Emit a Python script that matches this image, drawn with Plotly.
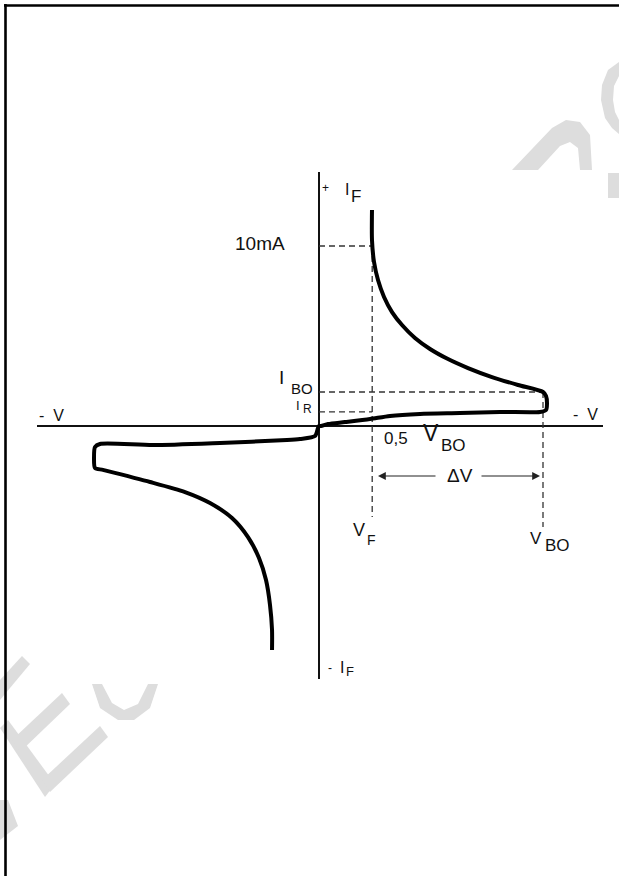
import plotly.graph_objects as go

# ---------------- data (V in volts, V_BO = 32 V ; I in mA) ----------------
# forward branch: from top (high current) down to break-over, then back to origin
fwd_v = [7.57, 7.57, 7.86, 8.43, 9.29, 10.43, 11.86, 13.71, 15.86, 18.43, 21.29,
         24.71, 28.43, 32.0, 32.43, 32.57, 32.43, 31.57, 25.86, 20.14, 14.43,
         10.14, 7.29, 3.71, 1.29, 0.29, 0.0]
fwd_i = [12.0, 10.33, 9.11, 8.11, 7.17, 6.33, 5.61, 4.89, 4.28, 3.72, 3.22,
         2.72, 2.28, 1.89, 1.67, 1.22, 0.89, 0.78, 0.78, 0.72, 0.67,
         0.56, 0.39, 0.22, 0.11, 0.0, 0.0]
# reverse branch: from origin out to -V_BO, then down to high negative current
rev_v = [-0.14, -0.57, -2.71, -4.57, -14.14, -23.71, -31.29, -32.0, -32.14, -32.0,
         -30.86, -24.14, -19.14, -15.57, -12.43, -10.14, -8.57, -7.57, -7.0,
         -6.71, -6.71]
rev_i = [-0.11, -0.56, -0.72, -0.78, -0.94, -1.06, -1.0, -1.17, -1.78, -2.33,
         -2.44, -3.11, -3.67, -4.28, -5.11, -6.17, -7.33, -8.56, -9.94,
         -11.33, -12.44]

V_F = 7.6        # forward voltage
V_BO = 32.0      # break-over voltage
I_BO = 1.89      # break-over current
I_R = 0.78       # leakage current
I_10 = 10.0      # 10 mA marker

# ---------------- geometry helpers (page pixels) ----------------
W, H = 619, 876
OX, OY = 319, 426          # origin in pixels
SX, SY = 7.0, 18.0         # px per volt, px per mA
XR = [-OX / SX, (W - OX) / SX]
YR = [-(H - OY) / SY, OY / SY]


def px(x, y):
    """page pixel -> data coords"""
    return (x - OX) / SX, (OY - y) / SY


def pp(x, y):
    """page pixel -> paper coords"""
    return x / W, 1 - y / H


fig = go.Figure()

# axes
ax_top = px(0, 172)[1]
ax_bot = px(0, 679)[1]
ax_l = px(37, 0)[0]
ax_r = px(603, 0)[0]
fig.add_trace(go.Scatter(x=[ax_l, ax_r], y=[0, 0], mode="lines",
                         line=dict(color="#111", width=2.2), hoverinfo="skip"))
fig.add_trace(go.Scatter(x=[0, 0], y=[ax_bot, ax_top], mode="lines",
                         line=dict(color="#111", width=2), hoverinfo="skip"))

# dashed guide lines
v_f_bot = px(0, 517)[1]
v_bo_bot = px(0, 527)[1]
guides = [
    ([0, V_F], [I_10, I_10]),
    ([0, V_BO], [I_BO, I_BO]),
    ([0, V_F], [I_R, I_R]),
    ([V_F, V_F], [I_10, v_f_bot]),
    ([V_BO, V_BO], [I_BO, v_bo_bot]),
]
for gx, gy in guides:
    fig.add_trace(go.Scatter(x=gx, y=gy, mode="lines",
                             line=dict(color="#333", width=1.3, dash="6px,4px"),
                             hoverinfo="skip"))

# characteristic curve
fig.add_trace(go.Scatter(x=fwd_v + rev_v, y=fwd_i + rev_i, mode="lines",
                         line=dict(color="#000", width=4, shape="spline", smoothing=0.7),
                         hoverinfo="skip"))

# delta V arrows
arr_y = px(0, 476)[1]
for head, tail in [(px(378, 0)[0], px(437, 0)[0]), (px(540, 0)[0], px(480, 0)[0])]:
    fig.add_annotation(x=head, y=arr_y, ax=tail, ay=arr_y, xref="x", yref="y",
                       axref="x", ayref="y", text="", showarrow=True,
                       arrowhead=2, arrowsize=1.3, arrowwidth=1.2, arrowcolor="#222")

# labels: (text, px x, px y, size)
labels = [
    ("+", 325, 188, 12),
    ("I", 347, 189, 16), ("F", 356, 196, 17),
    ("-", 330, 668, 12),
    ("I", 342, 667, 16), ("F", 350, 671, 13),
    ("10mA", 260, 243, 19),
    ("I", 281, 377, 19), ("BO", 302, 388, 15),
    ("I", 298, 405, 13), ("R", 307, 409, 12),
    ("0,5", 396, 438, 17), ("V", 431, 433, 23), ("BO", 453, 445, 17),
    ("ΔV", 460, 475, 19),
    ("V", 359, 530, 18), ("F", 371, 540, 14),
    ("V", 536, 538, 17), ("BO", 557, 545, 17),
    ("-  V", 585, 414, 16),
    ("-  V", 51, 415, 16),
]
for t, lx, ly, s in labels:
    dx, dy = px(lx, ly)
    fig.add_annotation(x=dx, y=dy, xref="x", yref="y", text=t, showarrow=False,
                       xanchor="center", yanchor="middle",
                       font=dict(family="Liberation Sans, Arial, sans-serif",
                                 size=s, color="#111"))

# watermark fragments (light grey), in page pixels, drawn as filled polygons
wm = "#dddddd"
wm_polys = [
    # arch at top right (open at the bottom where the chart covers it)
    [(512, 170), (552, 128), (566, 120), (580, 122), (590, 135), (592, 170),
     (580, 170), (578, 148), (570, 142), (560, 146), (538, 170)],
    # left half of a ring at the right edge
    [(619, 62), (608, 70), (602, 85), (601, 100), (605, 118), (612, 128), (619, 134),
     (619, 120), (615, 112), (613, 100), (614, 86), (619, 76)],
    # small piece at the right edge
    [(608, 173), (619, 173), (619, 198), (608, 198)],
    # bottom-left letter fragments
    [(0, 680), (22, 656), (30, 664), (0, 700)],
    [(0, 728), (8, 720), (55, 784), (45, 797)],
    [(12, 740), (62, 693), (70, 704), (20, 752)],
    [(42, 780), (100, 726), (108, 737), (50, 792)],
    [(92, 684), (102, 684), (112, 703), (124, 710), (138, 704), (148, 684), (158, 684),
     (150, 708), (134, 720), (118, 720), (100, 708)],
    [(0, 800), (8, 800), (18, 826), (0, 840)],
]
for poly in wm_polys:
    c = [pp(*p) for p in poly]
    path = "M " + " L ".join(f"{a},{b}" for a, b in c) + " Z"
    fig.add_shape(type="path", path=path, xref="paper", yref="paper",
                  fillcolor=wm, line=dict(width=0), layer="below")

# page frame: only the top and left edges are visible (cropped page)
tx0, ty = pp(4, 5.5)
lx0, ly0 = pp(5.5, 4)
fig.add_shape(type="line", xref="paper", yref="paper", x0=tx0, y0=ty, x1=1.0, y1=ty,
              line=dict(color="#000", width=2.6), layer="above")
fig.add_shape(type="line", xref="paper", yref="paper", x0=lx0, y0=ly0, x1=lx0, y1=0.0,
              line=dict(color="#000", width=2.6), layer="above")

fig.update_layout(
    width=W, height=H, autosize=False,
    margin=dict(l=0, r=0, t=0, b=0, pad=0),
    paper_bgcolor="white", plot_bgcolor="white",
    showlegend=False,
    xaxis=dict(range=XR, visible=False, fixedrange=True),
    yaxis=dict(range=YR, visible=False, fixedrange=True),
)

fig.write_html(
    "out.html", config={"displayModeBar": False},
    post_script=("document.body.style.margin='0';"
                 "document.documentElement.style.overflow='hidden';"
                 "document.body.style.overflow='hidden';"))
